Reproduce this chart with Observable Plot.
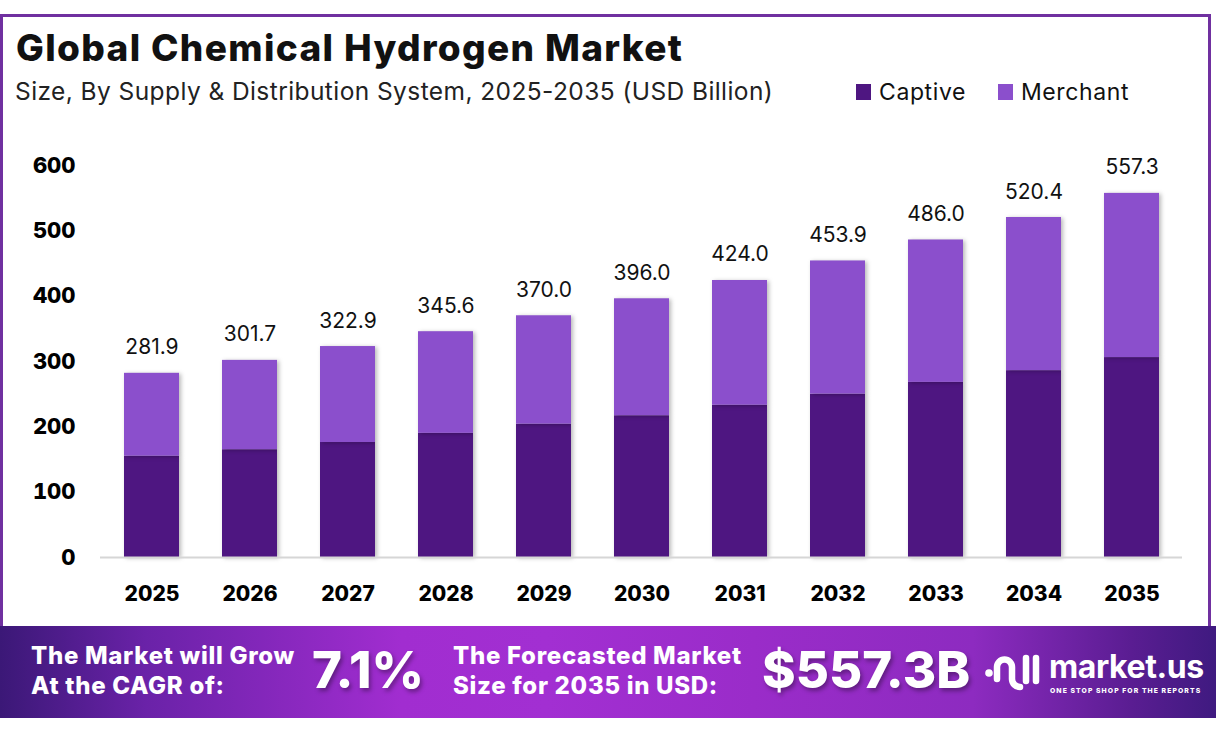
<!DOCTYPE html>
<html>
<head>
<meta charset="utf-8">
<script src="https://cdn.jsdelivr.net/npm/d3@7"></script>
<script src="https://cdn.jsdelivr.net/npm/@observablehq/plot@0.6"></script>
<style>
  html, body { margin: 0; padding: 0; background: #fff; }
  #page { position: relative; width: 1216px; height: 733px; overflow: hidden; font-family: "Inter", "Noto Sans", sans-serif; }
  #frame { position: absolute; left: 0; top: 14px; width: 1211px; height: 640px; border: 3px solid #7030A0; border-bottom: none; box-sizing: border-box; }
  #title { position: absolute; left: 16px; top: 25px; font-size: 37px; font-weight: 800; color: #111; letter-spacing: 1.35px; white-space: nowrap; }
  #subtitle { position: absolute; left: 15px; top: 76px; font-size: 24.5px; font-weight: 400; color: #222; letter-spacing: 0.42px; white-space: nowrap; }
  #legend { position: absolute; left: 856px; top: 78px; font-size: 23px; color: #111; display: flex; align-items: center; letter-spacing: 0.6px; }
  #legend .sw { display: inline-block; width: 15px; height: 16px; margin-right: 8px; }
  #legend .item { display: flex; align-items: center; margin-right: 32px; }
  #chart { position: absolute; left: 0; top: 140px; }
  #footer { position: absolute; left: 0; top: 626px; width: 1216px; height: 92px;
    background: linear-gradient(90deg, #3b1877 0%, #6a22a8 12%, #a12dd0 33%, #a22fd2 45%, #9a2cc9 62%, #8d2bc0 80%, #5a1d92 93%, #3f1a80 100%); color: #fff; }
  .ft { position: absolute; font-weight: 800; color: #fff; font-size: 24px; line-height: 30px; letter-spacing: 0.7px; white-space: nowrap; }
  .big { position: absolute; font-weight: 800; color: #fff; font-size: 51px; letter-spacing: 0px; text-shadow: 2px 3px 4px rgba(0,0,0,0.35); white-space: nowrap; }
  g[aria-label="bar"] rect { filter: drop-shadow(2px 1px 2px rgba(0,0,0,0.28)); }
</style>
</head>
<body>
<div id="page">
  <div id="frame"></div>
  <div id="title">Global Chemical Hydrogen Market</div>
  <div id="subtitle">Size, By Supply &amp; Distribution System, 2025-2035 (USD Billion)</div>
  <div id="legend"></div>
  <div id="chart"></div>
  <div id="footer">
    <div class="ft" style="left:31px; top:15px;">The Market will Grow<br>At the CAGR of:</div>
    <div class="big" style="left:312px; top:13px;">7.1%</div>
    <div class="ft" style="left:453px; top:15px;">The Forecasted Market<br>Size for 2035 in USD:</div>
    <div class="big" style="left:762px; top:13px;">$557.3B</div>
    <svg style="position:absolute; left:985px; top:26px;" width="56" height="42" viewBox="0 0 56 42">
      <g fill="none" stroke="#fff" stroke-width="6.5" stroke-linecap="round">
        <path d="M12 27 V15 A7.5 7.5 0 0 1 27 15 V27 A8 8 0 0 0 35 35"/>
        <path d="M41 6 V29"/>
        <path d="M51 6 V29"/>
      </g>
      <circle cx="4" cy="21" r="3.8" fill="#fff"/>
    </svg>
    <div style="position:absolute; left:1049px; top:21px; font-size:32px; font-weight:700; letter-spacing:-0.4px; line-height:40px;">market.us</div>
    <div style="position:absolute; left:1050px; top:60px; font-size:6.8px; font-weight:800; letter-spacing:1.1px; white-space:nowrap;">ONE STOP SHOP FOR THE REPORTS</div>
  </div>
</div>
<script>
const years = ["2025","2026","2027","2028","2029","2030","2031","2032","2033","2034","2035"];
const totals = [281.9, 301.7, 322.9, 345.6, 370.0, 396.0, 424.0, 453.9, 486.0, 520.4, 557.3];
const captive = [155, 165, 176, 190, 204, 217, 233, 250, 268, 286, 306];
const merchant = [126.9, 136.7, 146.9, 155.6, 166.0, 179.0, 191.0, 203.9, 218.0, 234.4, 251.3];
const segments = ["Captive", "Merchant"];
const colors = ["#4E1681", "#8B4FCC"];
const yTicks = [0, 100, 200, 300, 400, 500, 600];

const rows = [];
years.forEach((y, i) => {
  rows.push({year: y, segment: "Captive", value: captive[i]});
  rows.push({year: y, segment: "Merchant", value: merchant[i]});
});
const labels = years.map((y, i) => ({year: y, total: totals[i]}));

const legend = document.getElementById("legend");
segments.forEach((s, i) => {
  const it = document.createElement("div");
  it.className = "item";
  it.innerHTML = `<span class="sw" style="background:${colors[i]}"></span>${s}`;
  legend.appendChild(it);
});

const chart = Plot.plot({
  width: 1216,
  height: 480,
  marginLeft: 100,
  marginRight: 34,
  marginTop: 25,
  marginBottom: 63,
  style: {fontFamily: "Inter, 'Noto Sans', sans-serif", background: "transparent", overflow: "visible"},
  x: {domain: years, paddingInner: 0.44, paddingOuter: 0.22, label: null},
  y: {domain: [0, 600], ticks: yTicks, label: null},
  color: {domain: segments, range: colors},
  marks: [
    Plot.barY(rows, Plot.stackY({x: "year", y: "value", fill: "segment", order: segments})),
    Plot.ruleY([0], {stroke: "#d6d6d6", strokeWidth: 2}),
    Plot.text(labels, {x: "year", y: "total", text: d => d.total.toFixed(1), dy: -19, lineAnchor: "bottom", fontSize: 21, fill: "#111"}),
    Plot.axisX({tickSize: 0, tickPadding: 29, fontSize: 21, fontWeight: 800, fill: "#000"}),
    Plot.axisY({ticks: yTicks, tickSize: 0, tickPadding: 25, fontSize: 22, fontWeight: 800, fill: "#000"})
  ]
});
document.getElementById("chart").appendChild(chart);
</script>
</body>
</html>
